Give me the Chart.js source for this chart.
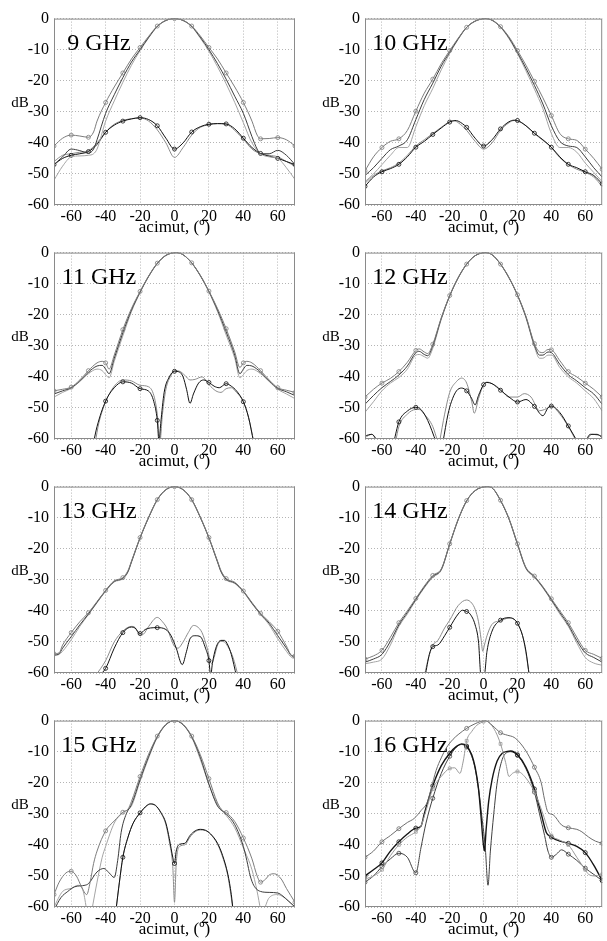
<!DOCTYPE html>
<html>
<head>
<meta charset="utf-8">
<script src="https://cdn.jsdelivr.net/npm/chart.js@4.4.0/dist/chart.umd.min.js"></script>
<style>
  body { margin: 0; background: #fff; width: 607px; height: 941px; position: relative; overflow: hidden; }
  canvas { position: absolute; }
</style>
</head>
<body>
<canvas id="p0" width="300" height="234" style="left:0;top:4px"></canvas>
<canvas id="p1" width="296" height="234" style="left:311px;top:4px"></canvas>
<canvas id="p2" width="300" height="234" style="left:0;top:238px"></canvas>
<canvas id="p3" width="296" height="234" style="left:311px;top:238px"></canvas>
<canvas id="p4" width="300" height="234" style="left:0;top:472px"></canvas>
<canvas id="p5" width="296" height="234" style="left:311px;top:472px"></canvas>
<canvas id="p6" width="300" height="234" style="left:0;top:706px"></canvas>
<canvas id="p7" width="296" height="234" style="left:311px;top:706px"></canvas>
<script>
const freqLabels = ['9 GHz', '10 GHz', '11 GHz', '12 GHz', '13 GHz', '14 GHz', '15 GHz', '16 GHz'];
const xTicks = [-60, -40, -20, 0, 20, 40, 60];
const yTicks = [0, -10, -20, -30, -40, -50, -60];
const xTitle = 'acimut, (º)';
const yTitle = 'dB';

// each series: [azimuth deg, level dB]
// 9 GHz
const co9a = [[-70,-41],[-65,-38.5],[-60,-37.5],[-55,-37.8],[-50,-38.2],[-47,-36.5],[-45,-33],[-40,-27],[-35,-22],[-30,-17.5],[-25,-13],[-20,-9.3],[-15,-5.7],[-10,-2.4],[-5,-0.6],[0,0],[5,-0.6],[10,-2.4],[15,-5.6],[20,-9.3],[25,-13],[30,-17.5],[35,-22],[40,-27],[45,-33],[48,-37.5],[50,-38.7],[55,-38.6],[60,-38.3],[65,-39],[70,-41]];
const co9b = [[-70,-47],[-65,-44.5],[-60,-42],[-55,-42.5],[-50,-43.3],[-47,-42],[-45,-39],[-40,-30.5],[-35,-24.5],[-30,-19],[-25,-14],[-20,-10],[-15,-6],[-10,-2.5],[-5,-0.6],[0,0],[5,-0.6],[10,-2.5],[15,-6],[20,-10],[25,-14.5],[30,-19.5],[35,-25],[40,-30.5],[45,-38],[48,-42],[50,-43.5],[55,-43.5],[60,-42.4],[65,-44],[70,-47]];
const co9c = [[-70,-52],[-65,-47.5],[-60,-44.5],[-55,-44.2],[-50,-44],[-47,-43.5],[-45,-42],[-40,-33],[-35,-26.5],[-30,-20.5],[-25,-15],[-20,-10.3],[-15,-6.2],[-10,-2.6],[-5,-0.6],[0,0],[5,-0.6],[10,-2.6],[15,-6.3],[20,-10.5],[25,-15.5],[30,-21],[35,-27],[40,-33.5],[45,-40],[50,-43.5],[55,-44.5],[60,-45],[65,-48],[70,-51.8]];
const x9a = [[-70,-47],[-65,-45],[-60,-44],[-55,-43.5],[-50,-42.8],[-45,-40.5],[-40,-36.6],[-35,-34.3],[-30,-33],[-25,-32.3],[-20,-31.9],[-15,-32.5],[-10,-34.5],[-5,-38.5],[0,-42],[5,-40],[10,-36.5],[15,-34.8],[20,-34],[25,-33.8],[30,-33.9],[35,-35.5],[40,-38.5],[45,-41.5],[50,-43.4],[55,-44.3],[60,-45],[65,-46],[70,-47]];
const x9b = [[-70,-46],[-65,-44],[-60,-43.5],[-55,-43],[-50,-42.5],[-45,-40],[-40,-36.5],[-35,-34],[-30,-32.8],[-25,-32.2],[-20,-32],[-15,-33],[-10,-35.8],[-5,-40],[0,-44.7],[5,-41.5],[10,-37.5],[15,-35],[20,-34.2],[25,-33.8],[30,-34],[35,-36],[40,-38.8],[45,-42],[50,-43.5],[55,-44],[60,-44.5],[65,-46],[70,-47.5]];

// 10 GHz
const co10a = [[-70,-49],[-65,-44.5],[-60,-41.5],[-55,-39.5],[-50,-38.7],[-45,-36],[-40,-29.8],[-35,-24],[-30,-19.5],[-25,-14.5],[-20,-10.3],[-15,-6.3],[-10,-2.8],[-5,-0.8],[1,0],[5,-0.5],[10,-2.6],[15,-5.9],[20,-10.3],[25,-15],[30,-20.2],[35,-25.5],[40,-31.2],[45,-37],[50,-38.7],[55,-39.2],[60,-42],[65,-45],[70,-48.5]];
const co10b = [[-70,-50.5],[-65,-48],[-60,-45],[-55,-42.2],[-50,-41],[-45,-39],[-40,-32.5],[-35,-26],[-30,-20.8],[-25,-15.3],[-20,-10.8],[-15,-6.5],[-10,-2.8],[-5,-0.8],[1,0],[5,-0.5],[10,-2.7],[15,-6.2],[20,-10.9],[25,-16],[30,-21.5],[35,-27.5],[40,-34.5],[45,-39.5],[50,-41],[55,-41.5],[60,-44.5],[65,-48],[70,-51]];
const co10c = [[-70,-52.5],[-65,-50],[-60,-47],[-55,-44],[-50,-41.5],[-45,-41.5],[-40,-34.8],[-35,-28],[-30,-22.5],[-25,-16.5],[-20,-11.2],[-15,-6.7],[-10,-2.9],[-5,-0.9],[1,0],[5,-0.6],[10,-2.8],[15,-6.5],[20,-11.3],[25,-16.8],[30,-22.7],[35,-29],[40,-37],[45,-41.5],[50,-41.5],[55,-43],[60,-46.5],[65,-49.5],[70,-52.5]];
const x10a = [[-70,-54],[-65,-51],[-60,-49.3],[-55,-48.3],[-50,-46.9],[-45,-44.5],[-40,-41.4],[-35,-39.5],[-30,-37.3],[-25,-35.2],[-20,-33.3],[-17,-32.8],[-15,-33],[-10,-35],[-5,-38.5],[0,-41],[5,-39],[10,-35.5],[15,-33.2],[18,-32.7],[20,-32.8],[25,-34.5],[30,-36.9],[35,-39],[40,-41.4],[45,-44.5],[50,-46.9],[55,-48],[60,-49.3],[65,-50.5],[70,-53.2]];
const x10b = [[-70,-53],[-65,-50.5],[-60,-49],[-55,-48],[-50,-46.5],[-45,-44],[-40,-41],[-35,-39],[-30,-37],[-25,-35],[-20,-33.2],[-17,-33],[-15,-33.5],[-10,-36],[-5,-39.5],[0,-42],[5,-40],[10,-36],[15,-33.5],[18,-32.8],[20,-33],[25,-34.5],[30,-37],[35,-39.2],[40,-41.5],[45,-44.8],[50,-47],[55,-48.5],[60,-49.5],[65,-51],[70,-54]];

// 11 GHz
const co11a = [[-70,-44.5],[-65,-44],[-60,-43.3],[-55,-41],[-50,-38],[-45,-35.5],[-42,-35],[-40,-35.5],[-38,-37.5],[-35,-33],[-30,-24.8],[-25,-18],[-20,-12.5],[-15,-7.5],[-10,-3.4],[-5,-0.9],[1,0],[5,-0.7],[10,-3.3],[15,-7.3],[20,-12.4],[25,-18],[30,-24.5],[35,-32],[38,-37],[40,-35.5],[42,-35],[45,-35.5],[50,-38],[55,-41],[60,-43.5],[65,-44.3],[70,-45]];
const co11b = [[-70,-45.5],[-65,-44.5],[-60,-43.5],[-55,-41.3],[-50,-38.5],[-45,-36.5],[-42,-36.3],[-40,-37.5],[-38,-39],[-35,-34],[-30,-25.8],[-25,-18.5],[-20,-12.7],[-15,-7.6],[-10,-3.5],[-5,-0.9],[1,0],[5,-0.7],[10,-3.3],[15,-7.4],[20,-12.5],[25,-18.5],[30,-25.5],[35,-33],[38,-39],[40,-37.5],[42,-36.3],[45,-36.5],[50,-38.5],[55,-41.3],[60,-43.7],[65,-44.8],[70,-46]];
const co11c = [[-70,-46.5],[-65,-45],[-60,-43.7],[-55,-41.5],[-50,-39],[-45,-37.5],[-42,-38],[-40,-39.3],[-38,-40.3],[-35,-35],[-30,-26.8],[-25,-19],[-20,-12.9],[-15,-7.7],[-10,-3.5],[-5,-0.9],[1,0],[5,-0.7],[10,-3.4],[15,-7.5],[20,-12.7],[25,-19],[30,-26.5],[35,-34],[38,-40.3],[40,-39.3],[42,-38],[45,-37.5],[50,-39],[55,-41.5],[60,-44],[65,-45.5],[70,-47]];
const x11a = [[-47,-61],[-45,-56],[-40,-47.8],[-35,-43.5],[-30,-41.6],[-25,-42],[-20,-43.8],[-15,-44.6],[-12,-48],[-10,-54],[-9,-61],[-8,-55],[-6,-45],[-3,-40],[0,-38.2],[3,-38.5],[5,-40],[7,-44],[9,-48.5],[11,-45.5],[14,-42],[17,-41],[20,-41.8],[23,-43],[26,-43.5],[30,-42.2],[33,-43],[36,-44.5],[40,-48],[43,-53],[46,-61]];
const x11b = [[-46,-61],[-44,-55],[-40,-48],[-35,-43],[-30,-41],[-25,-41.3],[-20,-42.7],[-15,-43.2],[-12,-46],[-10,-52],[-8.5,-61],[-7,-52],[-5,-44],[-2,-39.5],[0,-38],[3,-38.2],[6,-39.5],[9,-41],[12,-40.8],[16,-40],[20,-42.5],[24,-44.5],[27,-45],[30,-43.8],[33,-43.5],[36,-45],[40,-48],[43,-53],[46,-61]];

// 12 GHz
const co12a = [[-70,-46.5],[-65,-44],[-60,-42],[-55,-40.5],[-50,-38.3],[-45,-35.3],[-40,-31.5],[-38,-31],[-35,-32],[-33,-32.5],[-30,-29.5],[-25,-21],[-20,-13.8],[-15,-8],[-10,-3.7],[-5,-1],[1,0],[5,-0.7],[10,-3.7],[15,-8],[20,-13.6],[25,-20.5],[30,-29.3],[33,-32],[35,-32.2],[38,-31.2],[40,-31.3],[45,-34.8],[50,-38.3],[55,-40],[60,-42],[65,-44],[70,-46.5]];
const co12b = [[-70,-48.8],[-65,-46],[-60,-43.5],[-55,-41.5],[-50,-39.4],[-45,-36.5],[-40,-32.2],[-38,-31.8],[-35,-32.8],[-33,-33.2],[-30,-30],[-25,-21.2],[-20,-13.9],[-15,-8.1],[-10,-3.7],[-5,-1],[1,0],[5,-0.7],[10,-3.7],[15,-8.1],[20,-13.7],[25,-20.7],[30,-29.8],[33,-33],[35,-33],[38,-32],[40,-32.2],[45,-36],[50,-39.3],[55,-41.3],[60,-43.5],[65,-45.5],[70,-48.8]];
const co12c = [[-70,-51.4],[-65,-48],[-60,-44.5],[-55,-42],[-50,-40.2],[-45,-37.5],[-40,-33],[-38,-32.8],[-35,-33.5],[-33,-34],[-30,-30.8],[-25,-21.5],[-20,-14],[-15,-8.2],[-10,-3.8],[-5,-1],[1,0],[5,-0.7],[10,-3.8],[15,-8.2],[20,-13.8],[25,-21],[30,-30.3],[33,-34],[35,-34],[38,-33],[40,-33],[45,-37],[50,-40],[55,-42],[60,-44.5],[65,-47],[70,-51]];
const x12a = [[-70,-59],[-66,-58.5],[-62.5,-61],[-57,null],[-53,-61],[-50,-54.5],[-45,-51],[-40,-49.8],[-37,-50.5],[-33,-54],[-28,-61],[-26,null],[-24,-61],[-21,-52],[-19,-48],[-16,-44.5],[-13,-43.6],[-10,-44.5],[-7,-47],[-5,-49],[-3,-46],[0,-42.5],[2,-41.8],[5,-42.2],[10,-44.3],[15,-46.5],[20,-48.1],[25,-47.3],[30,-49.5],[35,-52.5],[38,-50],[40,-49.4],[45,-51.5],[50,-55.8],[55.5,-61],[58,null],[60,-61],[63,-58.5],[67,-58.5],[70,-59.5]];
const x12b = [[-70,-59.5],[-66,-58.5],[-62,-61],[-57,null],[-52,-61],[-50,-56],[-45,-52],[-40,-50.5],[-38,-50.5],[-35,-52],[-30,-56],[-27,-61],[-26.5,null],[-26,-61],[-23,-52],[-20,-45],[-16,-41.5],[-13,-40.4],[-10,-42],[-7,-48],[-5.5,-51.7],[-3,-47],[0,-42.5],[2,-41.7],[5,-42.2],[10,-44],[15,-46.5],[20,-46.5],[24,-45.4],[28,-46.5],[33,-50.9],[36,-50.5],[40,-49.4],[45,-52],[50,-56],[55,-61],[58,null],[60,-61],[64,-58.5],[70,-59]];

// 13 GHz
const co13a = [[-70,-53.8],[-67,-53.5],[-65,-51],[-60,-47],[-55,-43.5],[-50,-40.6],[-45,-37],[-40,-33.4],[-35,-30.3],[-30,-29.3],[-27,-27],[-25,-24],[-20,-16.4],[-15,-9.8],[-10,-4.2],[-5,-1],[0,0],[5,-1],[10,-4.2],[15,-9.8],[20,-16.4],[25,-24],[27,-27],[30,-29.6],[35,-30.8],[40,-33.6],[45,-37.3],[50,-40.8],[55,-43.5],[60,-46.6],[65,-51.3],[68,-54.3],[70,-54.5]];
const co13b = [[-70,-54.2],[-67,-53.8],[-65,-52],[-60,-48.3],[-55,-44.5],[-50,-41],[-45,-37.2],[-40,-33.5],[-35,-30.5],[-30,-29.5],[-27,-27.3],[-25,-24.2],[-20,-16.5],[-15,-9.9],[-10,-4.2],[-5,-1],[0,0],[5,-1],[10,-4.2],[15,-9.9],[20,-16.5],[25,-24.2],[27,-27.3],[30,-29.8],[35,-31],[40,-33.7],[45,-37.5],[50,-41],[55,-44],[60,-48],[65,-52],[68,-54.5],[70,-55]];
const co13c = [[-70,-54.5],[-67,-54],[-65,-53],[-60,-49.3],[-55,-45],[-50,-41.2],[-45,-37.4],[-40,-33.7],[-35,-30.7],[-30,-29.7],[-27,-27.5],[-25,-24.4],[-20,-16.6],[-15,-10],[-10,-4.3],[-5,-1],[0,0],[5,-1],[10,-4.3],[15,-10],[20,-16.6],[25,-24.4],[27,-27.5],[30,-30],[35,-31.2],[40,-33.9],[45,-37.7],[50,-41.2],[55,-44.5],[60,-49],[65,-53],[68,-55],[70,-55.3]];
const x13a = [[-44,-61],[-40,-58.5],[-35,-52],[-30,-47],[-25,-45.2],[-23,-45.5],[-20,-47.3],[-17,-46],[-14,-45.5],[-10,-45.4],[-5,-46],[-2,-48],[1,-52],[4.5,-57.3],[7,-53],[9,-49],[12,-48],[15,-48.3],[18,-52],[20,-56],[21,-61],[22,-57],[24,-52],[27,-49.5],[29,-49.5],[31,-51],[33,-54],[36,-61]];
const x13b = [[-46,-61],[-40,-56],[-35,-50],[-30,-46.5],[-25,-45],[-23,-45.3],[-20,-47.8],[-18,-47.5],[-15,-45],[-10,-42.1],[-7,-43.5],[-4,-46],[-2,-49],[0,-51.5],[2,-52],[5,-50],[8,-47],[11,-44.7],[13,-45],[16,-47],[19,-52],[21.5,-57],[23,-55],[25,-51],[27,-49.8],[29,-50],[31,-51.5],[34,-55],[37,-61]];

// 14 GHz
const co14a = [[-70,-55.5],[-65,-54.5],[-60,-52.7],[-55,-48.5],[-50,-43.8],[-45,-40],[-40,-36],[-35,-32],[-30,-28.6],[-25,-26.5],[-20,-18.4],[-15,-10.5],[-10,-4.5],[-5,-1.3],[2,0],[5,-0.4],[10,-4.4],[15,-10.3],[20,-18.4],[25,-26],[30,-28.8],[35,-32.2],[40,-36.1],[45,-40],[50,-43.8],[55,-48.5],[60,-52.7],[65,-54],[70,-55.3]];
const co14b = [[-70,-56.5],[-65,-55.5],[-60,-54],[-55,-49.8],[-50,-44.5],[-45,-40.5],[-40,-36.3],[-35,-32.3],[-30,-28.9],[-25,-26.7],[-20,-18.5],[-15,-10.6],[-10,-4.6],[-5,-1.3],[2,0],[5,-0.4],[10,-4.5],[15,-10.4],[20,-18.5],[25,-26.2],[30,-29],[35,-32.4],[40,-36.4],[45,-40.5],[50,-44.5],[55,-49.5],[60,-53.5],[65,-55],[70,-56.5]];
const co14c = [[-70,-57],[-65,-56.5],[-60,-55.5],[-55,-51],[-50,-45],[-45,-41],[-40,-36.6],[-35,-32.6],[-30,-29.2],[-25,-26.9],[-20,-18.6],[-15,-10.7],[-10,-4.6],[-5,-1.3],[2,0],[5,-0.4],[10,-4.5],[15,-10.5],[20,-18.6],[25,-26.4],[30,-29.2],[35,-32.6],[40,-36.7],[45,-41],[50,-45],[55,-50.3],[60,-55],[65,-56.8],[70,-57.5]];
const x14a = [[-34.5,-61],[-32,-54],[-30,-51.5],[-27,-51],[-23,-48],[-20,-45.3],[-15,-41],[-12.5,-39.8],[-10,-40.2],[-8,-41],[-5,-44.5],[-3,-50],[-1.5,-61],[0.3,-61],[2,-53],[5,-46.5],[10,-43],[15,-42.2],[18,-42.7],[20,-44],[23,-48],[25,-53],[27,-61]];
const x14b = [[-35,-61],[-32,-54],[-30,-51],[-27,-49.5],[-23,-45.5],[-20,-43],[-15,-38.3],[-10,-36.5],[-7,-37.5],[-5,-39.5],[-3,-43.5],[-1.5,-49],[-0.5,-53],[0.5,-51],[2,-48],[5,-44.3],[10,-43.2],[15,-42.3],[18,-42.7],[20,-44],[23,-48],[25,-53.5],[27,-61]];

// 15 GHz
const co15a = [[-70,-56],[-67,-52],[-63,-49],[-60,-48.5],[-57,-50],[-54,-53.5],[-51,-56],[-49,-52],[-47,-46],[-45,-42],[-40,-35.5],[-35,-32.3],[-30,-29.5],[-27,-28.5],[-25,-26],[-20,-18],[-15,-10.8],[-10,-5],[-5,-1.2],[0,0],[5,-1.2],[10,-5],[15,-11],[20,-18.7],[25,-26.5],[28,-29],[30,-29.6],[35,-32.5],[40,-37.8],[45,-44.5],[48,-50],[50,-52],[53,-51],[55,-49.7],[58,-49.3],[62,-51],[65,-54],[70,-58.5]];
const co15b = [[-70,-61],[-66,-57],[-62,-55],[-58,-53.5],[-52,-53],[-50,-52.5],[-45,-48.7],[-41,-47.6],[-38,-49],[-35,-50.5],[-33,-45],[-31,-36],[-28,-30],[-25,-27],[-20,-19],[-15,-11.5],[-10,-5.2],[-5,-1.3],[0,0],[5,-1.3],[10,-5.2],[15,-11.8],[20,-20.5],[25,-27.5],[30,-30],[35,-33.5],[40,-40.5],[42,-45],[44,-50],[46,-53],[50,-55],[55,-55.3],[60,-55.5],[63,-56.5],[66,-58],[70,-60]];
const co15c = [[-70,-60],[-65,-55],[-60,-54],[-56,-53],[-53,-55],[-51,-61],[-49.5,null],[-48,-61],[-45,-52],[-42,-44],[-40,-40.5],[-35,-33],[-30,-29.6],[-25,-27.5],[-20,-19.5],[-15,-12],[-10,-5.4],[-5,-1.4],[0,0],[5,-1.4],[10,-5.4],[15,-12.5],[20,-20.5],[25,-27],[30,-30.5],[35,-34.5],[40,-41],[45,-48],[48,-55],[50,-61],[51,null],[52,-61],[55,-57],[60,-56],[65,-57.5],[70,-60]];
const x15a = [[-34,-61],[-32,-52],[-30,-44],[-27,-37.5],[-24,-33],[-20,-29.7],[-16,-27.3],[-14,-26.8],[-11,-27.3],[-8,-29.5],[-5,-33],[-3,-38],[-1,-44],[0,-46],[1,-42],[3,-39.8],[6,-39.5],[9,-37],[12,-35.5],[15,-35],[18,-35.3],[21,-36.5],[25,-39.5],[28,-43.5],[31,-49.5],[33,-56],[34,-61]];
const x15b = [[-34,-61],[-32,-52],[-30,-44],[-27,-37.5],[-24,-33],[-20,-29.8],[-16,-27.4],[-14,-26.9],[-11,-27.4],[-8,-29.6],[-5,-33.5],[-3,-39],[-1,-47],[0,-58.5],[1,-46],[3,-40.5],[6,-40],[9,-37.5],[12,-35.8],[15,-35.2],[18,-35.4],[21,-36.6],[25,-39.8],[28,-44],[31,-50],[33,-57],[34,-61]];

// 16 GHz
const co16a = [[-70,-44],[-65,-42],[-60,-39],[-55,-37],[-50,-34.8],[-45,-32.8],[-41,-31.5],[-37,-29],[-33,-26],[-31,-22],[-28,-16],[-25,-12],[-22,-8.8],[-18,-6],[-15,-4.5],[-10,-2.5],[-5,-1],[1,0],[5,-1.5],[10,-3.9],[14,-4.7],[18,-5.4],[22,-7.5],[26,-10.7],[30,-15],[34,-20],[36,-25.5],[38,-29.5],[41,-30.3],[46,-33.6],[50,-34.5],[55,-35],[58,-35.8],[62,-37.5],[66,-38.8],[70,-39.5]];
const co16b = [[-70,-51],[-65,-50],[-60,-48],[-55,-43.5],[-50,-40],[-45,-37.5],[-40,-35.8],[-37,-34],[-34,-29],[-30,-22],[-25,-18],[-20,-15.4],[-17,-15.2],[-14,-17],[-12,-13],[-10,-6.5],[-7,-3.5],[-4,-1.5],[0,-0.3],[1,0],[4,-1],[7,-3.5],[10,-7.5],[13,-13.5],[15,-18],[17,-17],[20,-16.4],[25,-18.5],[30,-23],[35,-30],[38,-35],[40,-37],[45,-38.5],[50,-40],[55,-44],[60,-48],[62,-49.5],[66,-50],[70,-49.5]];
const x16a = [[-70,-50],[-65,-48],[-60,-45.8],[-55,-42],[-50,-39],[-45,-36.5],[-40,-34.6],[-37,-34],[-35,-30],[-30,-21],[-25,-14.5],[-20,-10.5],[-16,-8.3],[-13,-7.5],[-10,-8.2],[-7,-11],[-5,-15],[-3,-22],[-1.5,-31],[-0.3,-39],[0.5,-42],[1.5,-35],[3,-26],[5,-19],[8,-13],[11,-10.5],[14,-9.9],[16,-9.8],[20,-11],[25,-15],[30,-22],[34,-30],[37,-36],[40,-37.5],[45,-38.8],[50,-39.5],[55,-40.5],[60,-42.5],[65,-46.5],[70,-51.5]];
const x16b = [[-70,-52],[-65,-50],[-60,-47],[-55,-44.5],[-50,-42.7],[-45,-44],[-40,-49],[-37,-41],[-34,-33],[-30,-25],[-25,-17],[-20,-11.5],[-16,-8.5],[-13,-7.7],[-10,-8.5],[-7,-11.5],[-5,-15.5],[-3,-22],[-1,-31],[1,-41],[2.6,-53],[4,-42],[6,-30],[8,-20],[11,-12.5],[14,-10.2],[16,-10],[20,-11.2],[25,-15.5],[30,-23],[33,-30],[36,-37],[38,-42],[40,-44],[43,-43],[46,-41.6],[50,-43],[55,-45],[60,-47.5],[65,-49.5],[70,-51.5]];

const panelSeries = [
  [co9a, co9b, co9c, x9a, x9b],
  [co10a, co10b, co10c, x10a, x10b],
  [co11a, co11b, co11c, x11a, x11b],
  [co12a, co12b, co12c, x12a, x12b],
  [co13a, co13b, co13c, x13a, x13b],
  [co14a, co14b, co14c, x14a, x14b],
  [co15a, co15b, co15c, x15a, x15b],
  [co16a, co16b, x16a, x16b]
];

const lineColors = ['#7c7c7c', '#3c3c3c', '#a4a4a4', '#111111', '#8c8c8c'];
const lineColors16 = ['#6c6c6c', '#9a9a9a', '#151515', '#404040'];
const serif = '"Liberation Serif", "Times New Roman", serif';

const panelDecor = {
  id: 'panelDecor',
  afterDraw(chart, args, opts) {
    const { ctx, chartArea: a } = chart;
    ctx.save();
    ctx.strokeStyle = '#8a8a8a';
    ctx.lineWidth = 1;
    ctx.strokeRect(a.left + 0.5, a.top + 0.5, a.right - a.left - 1, a.bottom - a.top - 1);
    ctx.fillStyle = '#000';
    ctx.textAlign = 'center';
    ctx.textBaseline = 'alphabetic';
    ctx.font = '24px ' + serif;
    ctx.fillText(opts.label, a.left + 45, a.top + 31);
    ctx.textBaseline = 'middle';
    ctx.font = '15px ' + serif;
    ctx.fillText(yTitle, a.left - 34, a.top + 84);
    ctx.restore();
  }
};

freqLabels.forEach((label, i) => {
  const right = i % 2 === 1;
  const is16 = i === 7;
  const datasets = panelSeries[i].map((s, k) => {
    const color = is16 ? lineColors16[k] : lineColors[k];
    const marked = is16 ? true : (k === 0 || k === 3);
    return {
      data: s.map(([x, y]) => ({ x, y })),
      borderColor: color,
      borderWidth: (is16 && k === 2) ? 1.4 : 1,
      pointStyle: (is16 && k === 1) ? 'rect' : 'circle',
      pointRadius: c => (marked && c.raw && c.raw.y !== null && c.raw.y > -59 && c.raw.x % 10 === 0) ? 2 : 0,
      pointBorderColor: color,
      pointBorderWidth: 0.8,
      pointBackgroundColor: 'rgba(255,255,255,0)',
      cubicInterpolationMode: 'monotone',
      spanGaps: false,
      fill: false
    };
  });

  new Chart(document.getElementById('p' + i), {
    type: 'line',
    data: { datasets },
    options: {
      responsive: false,
      animation: false,
      events: [],
      layout: { padding: { top: 10, right: right ? 1 : 5, left: 0, bottom: 0 } },
      plugins: {
        legend: { display: false },
        tooltip: { enabled: false },
        panelDecor: { label }
      },
      scales: {
        x: {
          type: 'linear',
          min: -70,
          max: 70,
          afterBuildTicks: s => { s.ticks = xTicks.map(v => ({ value: v })); },
          afterFit: s => { s.height = 33; },
          grid: { color: '#b4b4b4', lineWidth: 1, drawTicks: false },
          border: { display: false, dash: [1, 2] },
          ticks: { color: '#000', padding: 2, font: { family: serif, size: 16 }, callback: v => String(v) },
          title: { display: true, text: xTitle, color: '#000', padding: { top: 0, bottom: 0 }, font: { family: serif, size: 17 } }
        },
        y: {
          min: -60,
          max: 0,
          afterBuildTicks: s => { s.ticks = yTicks.map(v => ({ value: v })); },
          afterFit: s => { s.width = 54; },
          grid: { color: '#b4b4b4', lineWidth: 1, drawTicks: false },
          border: { display: false, dash: [1, 2] },
          ticks: { color: '#000', padding: 5, font: { family: serif, size: 16 }, callback: v => String(v) }
        }
      }
    },
    plugins: [panelDecor]
  });
});
</script>
</body>
</html>
